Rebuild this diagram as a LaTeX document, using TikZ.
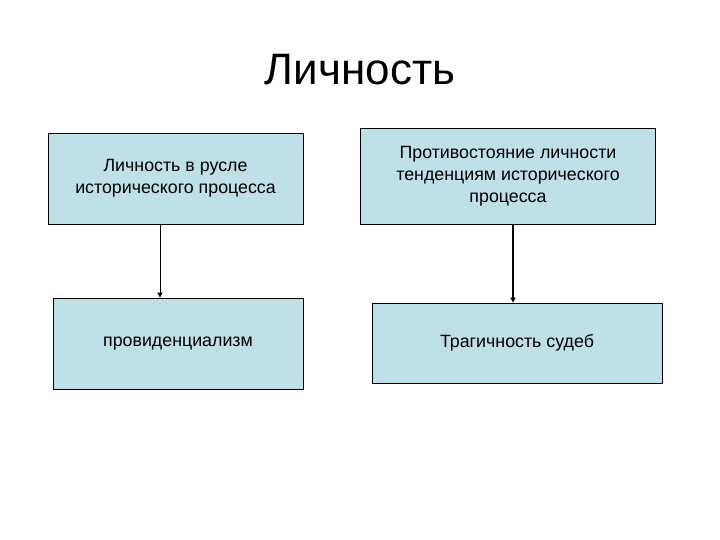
\documentclass[tikz,border=0pt]{standalone}
\usepackage{fontspec}
\setmainfont{Liberation Sans}
\usetikzlibrary{arrows.meta}
\definecolor{boxfill}{RGB}{190,224,230}
\tikzset{
  box/.style={draw=black, line width=0.8pt, fill=boxfill, minimum width=#1, align=center,
    font=\fontsize{17.8}{22}\selectfont, inner sep=0pt},
  conn/.style={-{Triangle[length=5pt,width=5pt]}, line width=#1},
}
\begin{document}
\begin{tikzpicture}[x=1pt,y=-1pt]
\useasboundingbox (0,0) rectangle (720,540);
\node[font=\fontsize{44}{50}\selectfont] (title) at (360,70) {Личность};
\node[box=255pt, minimum height=91pt] (b1) at (175.5,178.5) {Личность в русле\\исторического процесса};
\node[box=295pt, minimum height=96pt] (b2) at (508,176) {Противостояние личности\\тенденциям исторического\\процесса};
\node[box=250pt, minimum height=91pt] (b3) at (178,343.5) {провиденциализм};
\node[box=290pt, minimum height=80pt] (b4) at (517,343) {Трагичность судеб};
\draw[conn=0.8pt] (160,0 |- b1.south) -- (160,0 |- b3.north);
\draw[conn=1.6pt] (513,0 |- b2.south) -- (513,0 |- b4.north);
\end{tikzpicture}
\end{document}
